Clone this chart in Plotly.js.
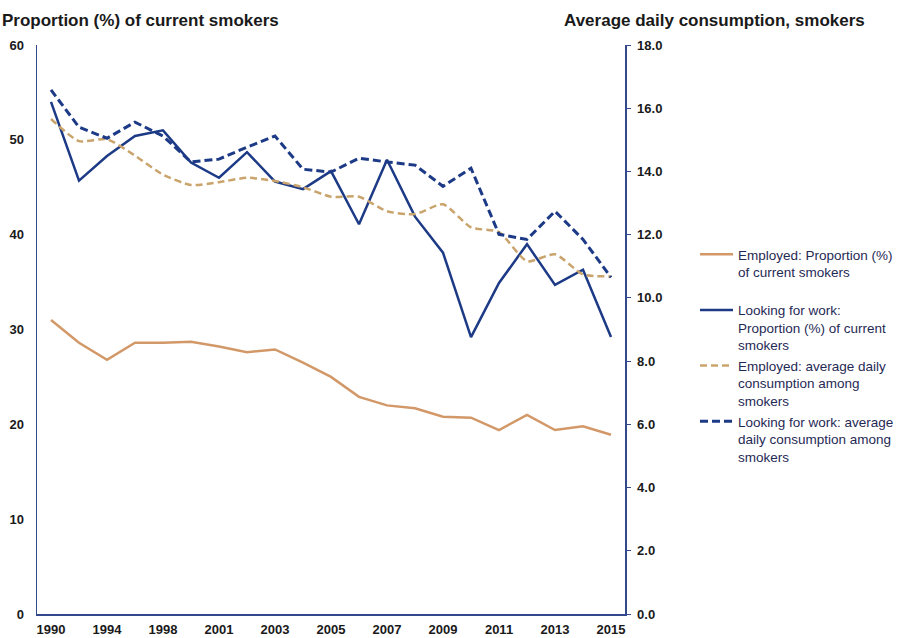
<!DOCTYPE html>
<html>
<head>
<meta charset="utf-8">
<script src="https://cdn.plot.ly/plotly-3.0.1.min.js"></script>
<style>
html,body{margin:0;padding:0;background:#fff;}
#chart{width:905px;height:638px;}
</style>
</head>
<body>
<div id="chart"></div>
<script>
// Categories (survey years)
const years = ["1990","1992","1994","1996","1998","2000","2001","2002","2003","2004","2005","2006","2007","2008","2009","2010","2011","2012","2013","2014","2015"];

// Proportion (%) of current smokers — left axis
const employedProportion = [31.0,28.6,26.8,28.6,28.6,28.7,28.2,27.6,27.9,26.5,25.0,22.9,22.0,21.7,20.8,20.7,19.4,21.0,19.4,19.8,18.9];
const lookingProportion  = [54.0,45.7,48.3,50.4,51.0,47.6,46.0,48.7,45.6,44.8,46.7,41.1,47.9,41.9,38.1,29.2,34.9,39.0,34.7,36.3,29.2];

// Average daily consumption among smokers — right axis
const employedConsumption = [15.66,14.96,15.02,14.5,13.9,13.57,13.66,13.8,13.7,13.5,13.2,13.2,12.74,12.65,12.96,12.23,12.08,11.16,11.38,10.74,10.68];
const lookingConsumption  = [16.58,15.4,15.05,15.56,15.12,14.3,14.39,14.77,15.12,14.07,13.98,14.42,14.3,14.2,13.53,14.1,12.01,11.85,12.74,11.85,10.65];

// Series names
const names = [
  "Employed: Proportion (%)<br>of current smokers<br>&nbsp;",
  "Looking for work:<br>Proportion (%) of current<br>smokers",
  "Employed: average daily<br>consumption among<br>smokers",
  "Looking for work: average<br>daily consumption among<br>smokers"
];

const leftTicks = [0,10,20,30,40,50,60];
const rightTicks = [0,2,4,6,8,10,12,14,16,18];
const xTickVals = years.filter((y,i)=>i%2===0);

const orange = "#d39868";
const orangeDash = "#c9a46c";
const navy = "#1d3a86";
const axisCol = "#34498c";

const traces = [
  {x: years, y: employedProportion, name: names[0], type:"scatter", mode:"lines",
   line:{color:orange, width:2.5}, yaxis:"y", legendgroup:"a"},
  {x: years, y: lookingProportion, name: names[1], type:"scatter", mode:"lines",
   line:{color:navy, width:2.5}, yaxis:"y", legendgroup:"b"},
  {x: years, y: employedConsumption, name: names[2], type:"scatter", mode:"lines",
   line:{color:orangeDash, width:2.5, dash:"7px,4px", shape:"spline", smoothing:0.6}, yaxis:"y2", legendgroup:"c"},
  {x: years, y: lookingConsumption, name: names[3], type:"scatter", mode:"lines",
   line:{color:navy, width:3, dash:"8px,4px"}, yaxis:"y2", legendgroup:"d"}
];

const font = "Liberation Sans, Arial, sans-serif";
const tickFont = {family: font, size: 13, color: "#1a1a1a", weight: "bold"};

const layout = {
  width: 905, height: 638,
  margin: {l:37, r:280, t:45, b:24},
  paper_bgcolor: "#fff", plot_bgcolor: "#fff",
  font: {family: font, size: 12, color: "#1a1a1a"},
  showlegend: true,
  legend: {
    xref: "container", x: 695/905, xanchor: "left",
    y: 0.659, yanchor: "top",
    font: {family: font, size: 13.5, color: "#1f2a55"},
    valign: "top", tracegroupgap: 0, itemwidth: 33, bgcolor: "rgba(0,0,0,0)"
  },
  xaxis: {
    type: "category", range: [-0.5, 20.5],
    tickmode: "array", tickvals: xTickVals, ticktext: xTickVals,
    showgrid: false, zeroline: false,
    showline: true, linecolor: axisCol, linewidth: 1.5,
    ticks: "outside", ticklen: 3, tickcolor: "rgba(0,0,0,0)", tickfont: tickFont
  },
  yaxis: {
    range: [0, 60], tickmode: "array", tickvals: leftTicks,
    showgrid: false, zeroline: false,
    showline: true, linecolor: axisCol, linewidth: 1.5,
    ticks: "", ticklabelstandoff: 9, tickfont: tickFont
  },
  yaxis2: {
    range: [0, 18], overlaying: "y", side: "right",
    tickmode: "array", tickvals: rightTicks, tickformat: ".1f",
    showgrid: false, zeroline: false,
    showline: true, linecolor: axisCol, linewidth: 1.5,
    ticks: "outside", ticklen: 4, tickcolor: axisCol,
    ticklabelstandoff: 4, tickfont: tickFont
  },
  annotations: [
    {text: "<b>Proportion (%) of current smokers</b>", xref:"paper", yref:"paper",
     x: -37/588, xanchor:"left", y: 1, yanchor:"bottom", yshift: 13, showarrow:false,
     font:{family: font, size: 17, color:"#1a1a1a"}},
    {text: "<b>Average daily consumption, smokers</b>", xref:"paper", yref:"paper",
     x: (562-37)/588, xanchor:"left", y: 1, yanchor:"bottom", yshift: 13, showarrow:false,
     font:{family: font, size: 17, color:"#1a1a1a"}}
  ]
};

Plotly.newPlot("chart", traces, layout, {displayModeBar:false, staticPlot:true});
</script>
</body>
</html>
